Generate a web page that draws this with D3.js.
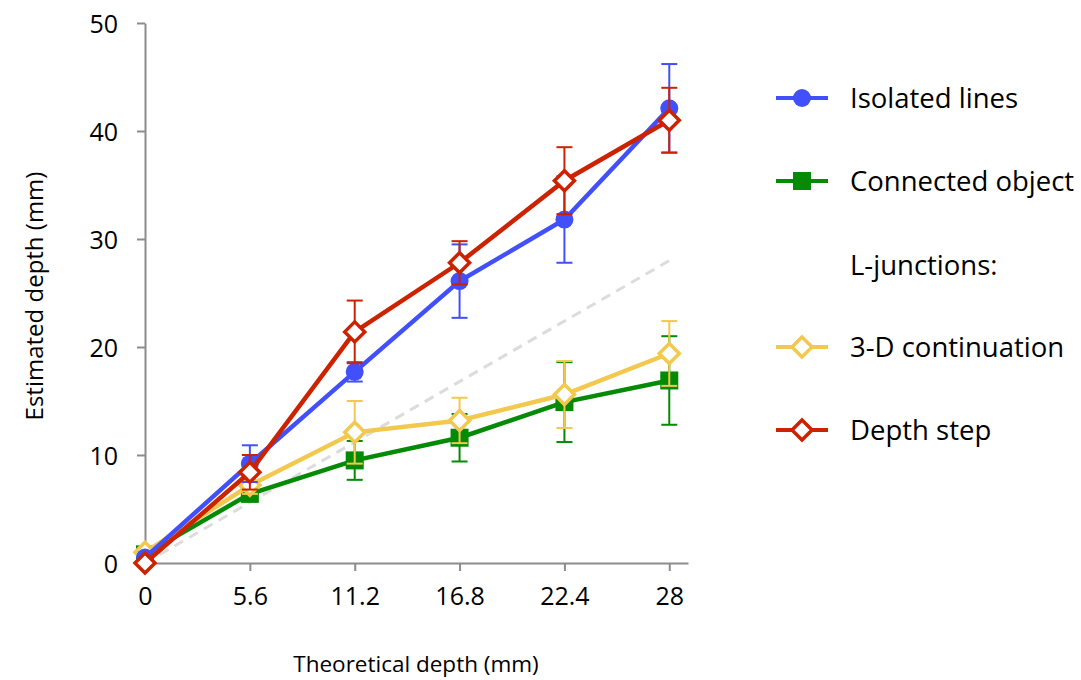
<!DOCTYPE html>
<html><head><meta charset="utf-8">
<script src="https://cdn.jsdelivr.net/npm/d3@7"></script>
<style>body{margin:0;background:#fff;} text{font-family:"Open Sans","Liberation Sans",sans-serif;}</style>
</head><body><svg id="c" width="1081" height="680"></svg>
<script>
const xTicks = [0, 5.6, 11.2, 16.8, 22.4, 28];
const xTickLabels = ["0", "5.6", "11.2", "16.8", "22.4", "28"];
const yTicks = [0, 10, 20, 30, 40, 50];
const seriesNames = ["Connected object", "3-D continuation", "Isolated lines", "Depth step"];
const connectedMean = [0.8, 6.4, 9.5, 11.6, 14.9, 16.9];
const connectedErr  = [0.3, 0.6, 1.8, 2.2, 3.7, 4.1];
const continuationMean = [1.0, 7.2, 12.1, 13.2, 15.6, 19.4];
const continuationErr  = [0.3, 0.8, 2.9, 2.1, 3.1, 3.0];
const isolatedMean = [0.5, 9.2, 17.7, 26.1, 31.8, 42.1];
const isolatedErr  = [0.3, 1.7, 0.9, 3.4, 4.0, 4.1];
const depthStepMean = [0.0, 8.4, 21.4, 27.8, 35.4, 41.0];
const depthStepErr  = [0.2, 1.6, 2.9, 2.0, 3.1, 3.0];
const identityLine = [0, 28];

const FS = "25px";
const svg = d3.select("#c");
const x = d3.scaleLinear().domain([0, 29]).range([145, 688]);
const y = d3.scaleLinear().domain([0, 50]).range([563, 23]);

const axisColor = "#8c8c8c";
const gx = svg.append("g").attr("transform", `translate(0,${y(0)})`)
  .call(d3.axisBottom(x).tickValues(xTicks).tickFormat((d,i)=>xTickLabels[i]).tickSize(8).tickSizeOuter(0).tickPadding(16));
const gy = svg.append("g").attr("transform", `translate(${x(0)},0)`)
  .call(d3.axisLeft(y).tickValues(yTicks).tickSize(8).tickSizeOuter(0).tickPadding(19));
[gx, gy].forEach(g => {
  g.select(".domain").attr("stroke", axisColor).attr("stroke-width", 2);
  g.selectAll(".tick line").attr("stroke", axisColor).attr("stroke-width", 2);
  g.selectAll(".tick text").attr("fill", "#000").style("font-size", FS)
   .style("font-family", '"Open Sans","Liberation Sans",sans-serif');
});
gy.selectAll(".tick text").attr("dy","0.36em");
svg.append("text").attr("x", 416).attr("y", 672).attr("text-anchor","middle")
  .style("font-size","22.5px").text("Theoretical depth (mm)");
svg.append("text").attr("transform","translate(43,296) rotate(-90)").attr("text-anchor","middle")
  .style("font-size","24px").text("Estimated depth (mm)");

svg.append("line").attr("x1", x(identityLine[0])).attr("y1", y(identityLine[0]))
  .attr("x2", x(identityLine[1])).attr("y2", y(identityLine[1]))
  .attr("stroke", "#dcdcdc").attr("stroke-width", 3).attr("stroke-dasharray", "10,7");

const series = [
  {name: seriesNames[0], mean: connectedMean, err: connectedErr, color: "#048a04", marker: "square"},
  {name: seriesNames[1], mean: continuationMean, err: continuationErr, color: "#f2c94e", marker: "diamond"},
  {name: seriesNames[2], mean: isolatedMean, err: isolatedErr, color: "#4150fa", marker: "circle"},
  {name: seriesNames[3], mean: depthStepMean, err: depthStepErr, color: "#cc2200", marker: "diamond"}
];

function drawMarker(g, type, cx, cy, color) {
  if (type === "circle") {
    g.append("circle").attr("cx", cx).attr("cy", cy).attr("r", 9).attr("fill", color);
  } else if (type === "square") {
    g.append("rect").attr("x", cx-9).attr("y", cy-9).attr("width", 18).attr("height", 18).attr("fill", color);
  } else {
    const s = 10;
    g.append("path").attr("d", `M${cx},${cy-s}L${cx+s},${cy}L${cx},${cy+s}L${cx-s},${cy}Z`)
      .attr("fill", "#fff").attr("stroke", color).attr("stroke-width", 3.5);
  }
}

const line = d3.line().x((d,i)=>x(xTicks[i])).y(d=>y(d));
series.forEach(s => {
  const g = svg.append("g");
  s.mean.forEach((m,i) => {
    const cx = x(xTicks[i]);
    const top = y(m + s.err[i]), bot = y(m - s.err[i]);
    g.append("line").attr("x1",cx).attr("x2",cx).attr("y1",top).attr("y2",bot).attr("stroke",s.color).attr("stroke-width",2);
    if (i > 0) {
      [top, bot].forEach(yy => g.append("line").attr("x1",cx-8).attr("x2",cx+8).attr("y1",yy).attr("y2",yy).attr("stroke",s.color).attr("stroke-width",2));
    }
  });
  g.append("path").datum(s.mean).attr("d", line).attr("fill","none").attr("stroke", s.color).attr("stroke-width", 4.5);
  s.mean.forEach((m,i) => drawMarker(g, s.marker, x(xTicks[i]), y(m), s.color));
});

const legendItems = [
  {s: series[2], y: 98}, {s: series[0], y: 181}, {s: series[1], y: 347}, {s: series[3], y: 430}
];
legendItems.forEach(it => {
  const g = svg.append("g");
  g.append("line").attr("x1", 776).attr("x2", 828).attr("y1", it.y).attr("y2", it.y).attr("stroke", it.s.color).attr("stroke-width", 4);
  drawMarker(g, it.s.marker, 802, it.y, it.s.color);
  g.append("text").attr("x", 850).attr("y", it.y).attr("dy","0.36em").style("font-size","27.5px").text(it.s.name);
});
svg.append("text").attr("x", 850).attr("y", 265).attr("dy","0.36em").style("font-size","27.5px").text("L-junctions:");
</script></body></html>
